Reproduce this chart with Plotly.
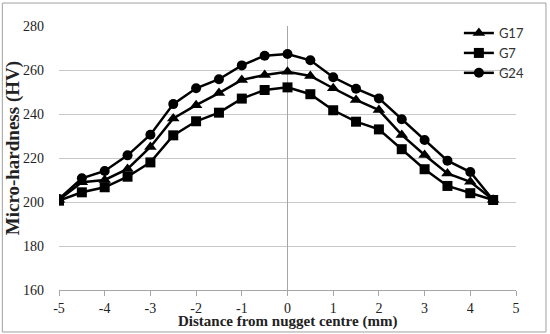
import plotly.graph_objects as go

distance = [-5, -4.5, -4, -3.5, -3, -2.5, -2, -1.5, -1, -0.5, 0, 0.5, 1, 1.5, 2, 2.5, 3, 3.5, 4, 4.5]
g17 = [201, 209, 210, 215, 225, 238, 244, 249.5, 255.5, 257.7, 259.2, 257.3, 251.7, 246.4, 241.8, 230.5, 221.4, 213, 209.2, 201]
g7 = [200.6, 204.4, 206.7, 211.5, 218, 230.3, 236.7, 240.6, 247, 250.9, 252.1, 249, 241.7, 236.5, 233, 224, 214.9, 207.3, 204, 200.9]
g24 = [201.4, 210.8, 214.1, 221.2, 230.6, 244.5, 251.7, 255.8, 262.1, 266.5, 267.3, 264.4, 256.7, 251.5, 247.1, 237.6, 228.2, 218.8, 213.6, 200.9]

x_ticks = [-5, -4, -3, -2, -1, 0, 1, 2, 3, 4, 5]
x_labels = ["-5", "-4", "-3", "-2", "-1", "0", "1", "2", "3", "4", "5"]
y_ticks = [160, 180, 200, 220, 240, 260, 280]

series = [("G17", g17, "triangle-up"), ("G7", g7, "square"), ("G24", g24, "circle")]

fig = go.Figure()
for name, vals, sym in series:
    fig.add_trace(go.Scatter(
        x=distance, y=vals, name=name, mode="lines+markers",
        line=dict(color="black", width=2.5),
        marker=dict(symbol=sym, size=10 if sym != "triangle-up" else 11, color="black"),
    ))

serif = "Liberation Serif, Times New Roman, serif"
fig.update_layout(
    width=550, height=334,
    margin=dict(l=59, r=34, t=26, b=44),
    paper_bgcolor="white", plot_bgcolor="white",
    showlegend=True,
    legend=dict(x=0.875, y=1.03, xanchor="left", yanchor="top",
                font=dict(family="Lato, Liberation Sans, sans-serif", size=13, color="#333"),
                bgcolor="rgba(0,0,0,0)", tracegroupgap=0, itemwidth=30),
    xaxis=dict(range=[-5, 5], tickvals=x_ticks, ticktext=x_labels, showgrid=False,
               zeroline=True, zerolinecolor="#a6a6a6", zerolinewidth=1,
               showline=True, linecolor="#a6a6a6", linewidth=1,
               ticks="outside", ticklen=5, tickcolor="#a6a6a6",
               tickfont=dict(family=serif, size=14, color="#222")),
    yaxis=dict(range=[160, 280], tickvals=y_ticks, showgrid=True,
               gridcolor="#c8c8c8", gridwidth=1, zeroline=False, showline=False,
               ticks="", ticklabelstandoff=14,
               tickfont=dict(family=serif, size=14, color="#222")),
    shapes=[dict(type="rect", xref="paper", yref="paper",
                 x0=-0.124, x1=1.0656, y0=-0.159, y1=1.087,
                 line=dict(color="#a0a0a0", width=1))],
    annotations=[
        dict(text="<b>Distance from nugget centre (mm)</b>", xref="paper", yref="paper",
             x=0.5, y=-0.12, xanchor="center", yanchor="middle", showarrow=False,
             font=dict(family=serif, size=15, color="#222")),
        dict(text="<b>Micro-hardness (HV)</b>", xref="paper", yref="paper",
             x=-0.1, y=0.538, xanchor="center", yanchor="middle", showarrow=False,
             textangle=-90, font=dict(family=serif, size=19, color="#222")),
    ],
)

fig.write_html("out.html", config={"displayModeBar": False},
               post_script="document.body.style.margin='0';document.body.style.padding='0';")
